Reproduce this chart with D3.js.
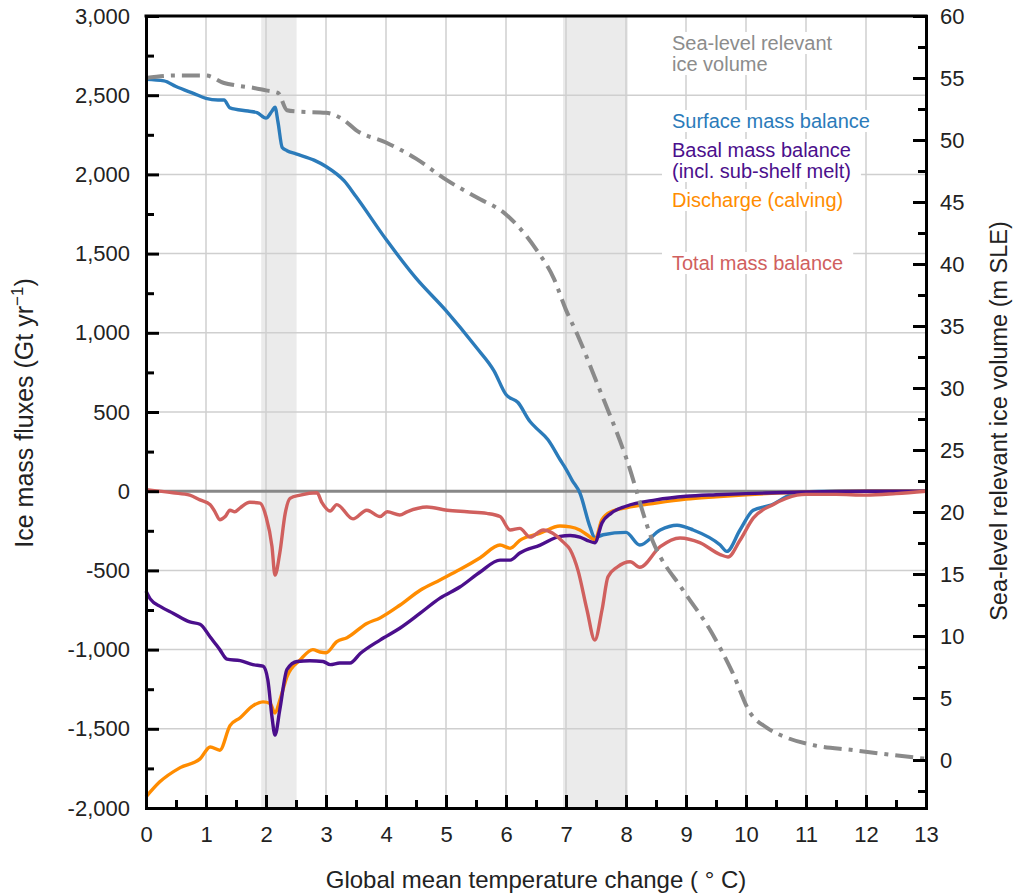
<!DOCTYPE html>
<html>
<head>
<meta charset="utf-8">
<script src="https://cdn.jsdelivr.net/npm/d3@7"></script>
<style>
  body { margin: 0; background: #fff; }
  text { font-family: "Liberation Sans", Arial, sans-serif; }
</style>
</head>
<body>
<div id="chart"></div>
<script>
// global mean temperature change (deg C) and fluxes (Gt/yr)
var smbT = [0, 0.3, 0.5, 0.8, 1.0, 1.2, 1.3, 1.4, 1.7, 1.85, 2.0, 2.1, 2.15, 2.2, 2.27, 2.35, 2.5, 2.8, 3.0, 3.3, 3.5, 4.0, 4.5, 5.0, 5.5, 5.8, 6.0, 6.2, 6.4, 6.5, 6.7, 6.9, 7.0, 7.1, 7.23, 7.4, 7.48, 7.62, 8.0, 8.23, 8.57, 8.85, 9.12, 9.57, 9.68, 9.9, 10.12, 10.4, 10.73, 10.9, 11.5, 12, 12.5, 13];
var smbV = [2600, 2590, 2555, 2510, 2480, 2470, 2470, 2420, 2400, 2390, 2355, 2400, 2425, 2330, 2170, 2150, 2130, 2090, 2050, 1960, 1860, 1590, 1345, 1140, 910, 760, 610, 560, 440, 400, 325, 200, 140, 70, -10, -225, -295, -275, -260, -340, -245, -215, -245, -340, -380, -245, -120, -90, -25, -5, 0, 0, 0, 0];

var bmbT = [0, 0.07, 0.25, 0.45, 0.73, 0.9, 1.07, 1.23, 1.35, 1.57, 1.78, 1.95, 2.03, 2.1, 2.15, 2.23, 2.35, 2.52, 2.73, 2.95, 3.07, 3.23, 3.4, 3.57, 3.9, 4.23, 4.57, 4.9, 5.23, 5.57, 5.9, 6.07, 6.23, 6.57, 6.9, 7.07, 7.23, 7.35, 7.48, 7.6, 7.75, 8.0, 8.5, 9.0, 9.5, 10.0, 10.5, 11.0, 12, 13];
var bmbV = [-630, -680, -730, -770, -825, -840, -920, -1000, -1060, -1070, -1095, -1105, -1190, -1425, -1540, -1380, -1125, -1075, -1070, -1075, -1095, -1085, -1085, -1025, -940, -865, -770, -675, -605, -510, -435, -435, -390, -340, -285, -280, -290, -310, -325, -200, -140, -95, -55, -32, -22, -15, -10, -5, 0, 0];

var disT = [0, 0.23, 0.57, 0.9, 1.07, 1.23, 1.4, 1.57, 1.78, 1.95, 2.07, 2.15, 2.23, 2.35, 2.57, 2.78, 2.9, 3.0, 3.18, 3.35, 3.68, 3.9, 4.23, 4.57, 4.9, 5.23, 5.57, 5.9, 6.07, 6.23, 6.57, 6.9, 7.07, 7.23, 7.35, 7.48, 7.6, 7.75, 8.0, 8.5, 9.0, 9.5, 10.0, 10.5, 11.0, 12, 13];
var disV = [-1930, -1835, -1745, -1690, -1615, -1635, -1480, -1430, -1355, -1330, -1340, -1400, -1320, -1170, -1065, -1000, -1015, -1020, -950, -925, -835, -800, -720, -625, -560, -495, -420, -340, -360, -310, -265, -220, -225, -245, -275, -305, -180, -130, -105, -75, -50, -35, -22, -12, -5, 0, 0];

var totT = [0, 0.45, 0.73, 0.9, 1.07, 1.15, 1.23, 1.32, 1.4, 1.48, 1.57, 1.73, 1.9, 2.0, 2.1, 2.15, 2.23, 2.32, 2.4, 2.57, 2.85, 2.93, 3.07, 3.18, 3.45, 3.68, 3.9, 4.02, 4.23, 4.35, 4.68, 5.02, 5.35, 5.68, 5.9, 6.07, 6.23, 6.4, 6.62, 6.78, 6.95, 7.07, 7.2, 7.35, 7.48, 7.6, 7.7, 7.85, 8.07, 8.23, 8.57, 8.9, 9.23, 9.57, 9.7, 9.9, 10.12, 10.45, 10.85, 11.0, 11.5, 12.0, 12.5, 13];
var totV = [10, -10, -25, -55, -85, -130, -180, -160, -120, -130, -105, -70, -75, -160, -350, -530, -390, -140, -45, -25, -10, -70, -125, -85, -175, -120, -160, -130, -150, -130, -100, -120, -130, -140, -160, -245, -235, -290, -245, -265, -320, -370, -500, -750, -940, -750, -540, -480, -445, -480, -350, -295, -325, -400, -415, -310, -170, -85, -25, -20, -20, -25, -15, 0];

// sea-level relevant ice volume (m SLE), right axis
var volT = [0, 0.5, 1.0, 1.3, 1.5, 1.8, 2.0, 2.2, 2.35, 2.5, 3.0, 3.3, 3.5, 4.0, 4.5, 5.0, 5.5, 6.0, 6.5, 6.8, 7.0, 7.2, 7.5, 8.0, 8.45, 8.95, 9.4, 9.78, 10.07, 10.35, 10.68, 11.12, 11.78, 12.45, 13];
var volV = [55.0, 55.2, 55.2, 54.6, 54.4, 54.2, 54.0, 53.8, 52.4, 52.3, 52.2, 51.6, 50.8, 49.8, 48.5, 46.8, 45.4, 44.0, 41.2, 38.8, 36.3, 34.2, 30.6, 24.4, 17.6, 13.7, 10.5, 7.0, 3.8, 2.6, 1.8, 1.2, 0.8, 0.4, 0.1];

// shaded warming ranges
var bands = [[1.92, 2.51], [6.95, 8.03]];

var xTicks = d3.range(0, 14);
var leftTicks = [-2000, -1500, -1000, -500, 0, 500, 1000, 1500, 2000, 2500, 3000];
var rightTicks = [0, 5, 10, 15, 20, 25, 30, 35, 40, 45, 50, 55, 60];

var legendLines = [
  {text: "Sea-level relevant", color: "#8c8c8c", y: 50},
  {text: "ice volume", color: "#8c8c8c", y: 71},
  {text: "Surface mass balance", color: "#2b7bba", y: 128},
  {text: "Basal mass balance", color: "#4b0f8c", y: 157},
  {text: "(incl. sub-shelf melt)", color: "#4b0f8c", y: 178},
  {text: "Discharge (calving)", color: "#ff8c00", y: 207},
  {text: "Total mass balance", color: "#d0605e", y: 270}
];

var margin = {top: 16, right: 87, bottom: 88, left: 146};
var width = 1013 - margin.left - margin.right,
    height = 896 - margin.top - margin.bottom;

var svg = d3.select("#chart")
  .append("svg")
  .attr("width", 1013)
  .attr("height", 896)
  .append("g")
  .attr("transform", `translate(${margin.left}, ${margin.top})`);

var x = d3.scaleLinear().domain([0, 13]).range([0, width]);
var yL = d3.scaleLinear().domain([-2000, 3000]).range([height, 0]);
var yR = d3.scaleLinear().domain([-3.87, 60]).range([height, 0]);

// grey bands
svg.selectAll("rect.band")
  .data(bands)
  .enter()
  .append("rect")
    .attr("class", "band")
    .attr("x", d => x(d[0]))
    .attr("width", d => x(d[1]) - x(d[0]))
    .attr("y", 0)
    .attr("height", height)
    .style("fill", "#ebebeb");

// grid
svg.selectAll("line.vgrid")
  .data(xTicks.slice(1, -1))
  .enter()
  .append("line")
    .attr("x1", d => x(d)).attr("x2", d => x(d))
    .attr("y1", 0).attr("y2", height)
    .style("stroke", "#cfcfcf").style("stroke-width", 1.5);

svg.selectAll("line.hgrid")
  .data(leftTicks.filter(d => d != 0 && d > -2000 && d < 3000))
  .enter()
  .append("line")
    .attr("x1", 0).attr("x2", width)
    .attr("y1", d => yL(d)).attr("y2", d => yL(d))
    .style("stroke", "#cfcfcf").style("stroke-width", 1.5);

// zero line
svg.append("line")
  .attr("x1", 0).attr("x2", width)
  .attr("y1", yL(0)).attr("y2", yL(0))
  .style("stroke", "#888").style("stroke-width", 3);

// legend text with white backgrounds
var legend = svg.append("g");
legendLines.forEach(function(l) {
  var t = legend.append("text")
    .attr("x", 672 - margin.left)
    .attr("y", l.y - margin.top)
    .style("font-size", "20px")
    .style("fill", l.color)
    .text(l.text);
  var b = t.node().getBBox();
  legend.insert("rect", "text")
    .attr("x", b.x - 10).attr("y", b.y)
    .attr("width", b.width + 20).attr("height", b.height)
    .style("fill", "#fff");
});

// data lines
var line = d3.line()
  .x(d => x(d[0]))
  .y(d => yL(d[1]))
  .curve(d3.curveMonotoneX);

var fluxes = [
  {t: smbT, v: smbV, color: "#2b7bba"},
  {t: disT, v: disV, color: "#ff8c00"},
  {t: bmbT, v: bmbV, color: "#4b0f8c"},
  {t: totT, v: totV, color: "#d0605e"}
];

fluxes.forEach(function(s) {
  svg.append("path")
    .datum(d3.zip(s.t, s.v))
    .attr("d", line)
    .style("fill", "none")
    .style("stroke", s.color)
    .style("stroke-width", 3.4)
    .style("stroke-linejoin", "round");
});

var volLine = d3.line()
  .x(d => x(d[0]))
  .y(d => yR(d[1]))
  .curve(d3.curveMonotoneX);

svg.append("path")
  .datum(d3.zip(volT, volV))
  .attr("d", volLine)
  .style("fill", "none")
  .style("stroke", "#8a8a8a")
  .style("stroke-width", 4)
  .style("stroke-dasharray", "18,7,4,7");

// axes, ticks pointing inward
var fmt = d => d3.format(",")(d).replace("\u2212", "-");
var bottomAxis = d3.axisBottom(x).tickValues(xTicks).tickSize(-13).tickPadding(18).tickFormat(d3.format("d"));
var leftAxis = d3.axisLeft(yL).tickValues(leftTicks).tickSize(-13).tickPadding(16).tickFormat(fmt);
var rightAxis = d3.axisRight(yR).tickValues(rightTicks).tickSize(-13).tickPadding(14);

svg.append("g").attr("transform", `translate(0, ${height})`).call(bottomAxis);
svg.append("g").call(leftAxis);
svg.append("g").attr("transform", `translate(${width}, 0)`).call(rightAxis);

// minor ticks
svg.append("g").attr("transform", `translate(0, ${height})`)
  .call(d3.axisBottom(x).tickValues(d3.range(0.5, 13, 1)).tickSize(-8).tickFormat(""));
svg.append("g")
  .call(d3.axisLeft(yL).tickValues(d3.range(-1750, 3000, 500)).tickSize(-8).tickFormat(""));
svg.append("g").attr("transform", `translate(${width}, 0)`)
  .call(d3.axisRight(yR).tickValues(d3.range(-2.5, 60, 5)).tickSize(-8).tickFormat(""));

svg.selectAll(".domain, .tick line")
  .style("stroke", "#000")
  .style("stroke-width", 3);
svg.selectAll(".tick text")
  .style("font-size", "22px")
  .style("fill", "#222");

// top border
svg.append("line")
  .attr("x1", -1.5).attr("x2", width + 1.5)
  .attr("y1", 0).attr("y2", 0)
  .style("stroke", "#000").style("stroke-width", 3);

// axis titles
svg.append("text")
  .attr("x", width / 2)
  .attr("y", height + 80)
  .attr("text-anchor", "middle")
  .style("font-size", "24px")
  .style("fill", "#222")
  .text("Global mean temperature change ( \u00B0 C)");

var lt = svg.append("text")
  .attr("transform", `translate(${-113}, ${397}) rotate(-90)`)
  .attr("text-anchor", "middle")
  .style("font-size", "25px")
  .style("fill", "#222");
lt.append("tspan").text("Ice mass fluxes (Gt yr");
lt.append("tspan").attr("dy", -10).style("font-size", "17px").text("\u22121");
lt.append("tspan").attr("dy", 10).text(")");

svg.append("text")
  .attr("transform", `translate(${width + 81}, ${405}) rotate(-90)`)
  .attr("text-anchor", "middle")
  .style("font-size", "23.5px")
  .style("fill", "#222")
  .text("Sea-level relevant ice volume (m SLE)");
</script>
</body>
</html>
